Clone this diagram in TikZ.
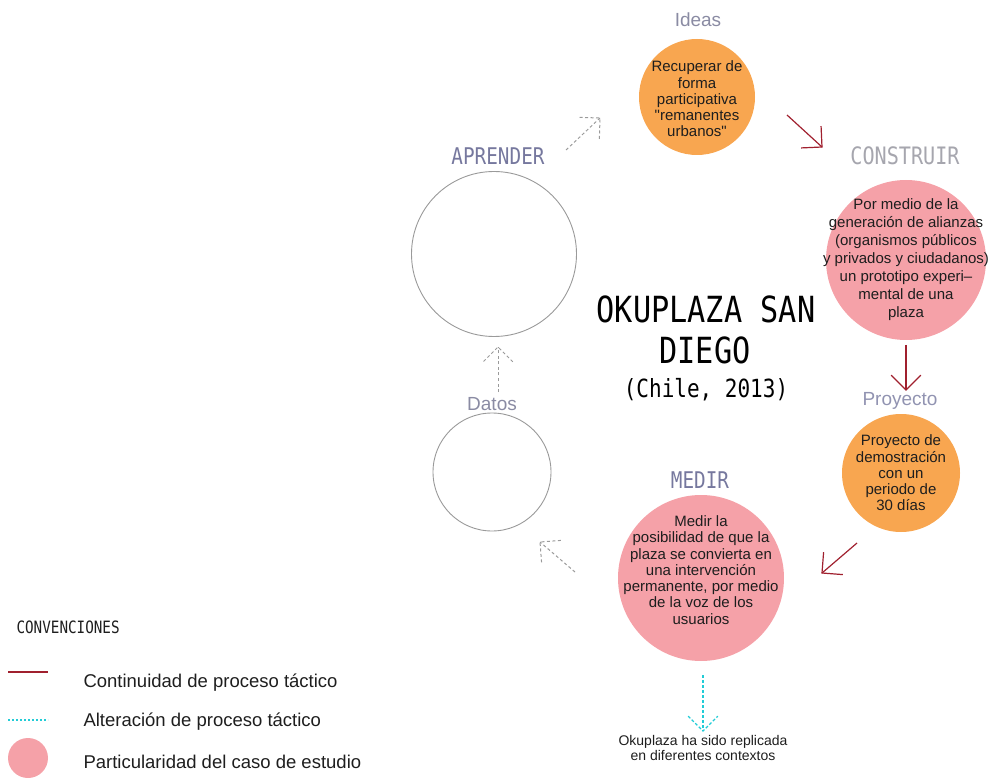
\documentclass[tikz,border=0pt]{standalone}
\usepackage{fontspec}
\setmainfont{Liberation Sans}
\newfontfamily\rawsans{Liberation Sans}[Ligatures=ResetAll]
\newfontfamily\condfont[FakeStretch=0.84]{DejaVu Sans Mono}
\usetikzlibrary{calc}
\definecolor{orangefill}{HTML}{F8A650}
\definecolor{pinkfill}{HTML}{F5A1A8}
\definecolor{darkred}{HTML}{A0202E}
\definecolor{cyanline}{HTML}{22CCD6}
\definecolor{greyline}{HTML}{9A9A9A}
\definecolor{labelgrey}{HTML}{8A8BA3}
\definecolor{labellight}{HTML}{A6A6AE}
\definecolor{labelpurple}{HTML}{76789E}
\definecolor{textdark}{HTML}{1E1E1E}
\newcommand{\okarms}[3]{\draw[#1] ($(#2)!21pt!45:(#3)$) -- (#2) -- ($(#2)!21pt!-45:(#3)$);}
\tikzset{
  circtext/.style={align=center, inner sep=0pt, text=textdark,
    font=\fontsize{15}{16.3}\selectfont},
  orangecirc/.style={circle, inner sep=0pt, fill=orangefill},
  pinkcirc/.style={circle, inner sep=0pt, fill=pinkfill},
  emptycirc/.style={circle, draw=greyline, line width=0.9pt, inner sep=0pt},
  redline/.style={draw=darkred, line width=1.2pt},
  greyline/.style={draw=greyline, line width=1pt, dash pattern=on 3pt off 2.5pt},
  cyandash/.style={draw=cyanline, line width=1.3pt, dash pattern=on 3pt off 2pt},
  lbl/.style={anchor=base, text=labelgrey, font=\fontsize{19}{19}\selectfont},
  condlbl/.style={anchor=base, font=\condfont\fontsize{23}{23}\selectfont},
  titlefont/.style={anchor=base, text=black, font=\condfont\fontsize{36}{36}\selectfont},
  legtext/.style={anchor=base west, text=textdark, font=\fontsize{18.5}{18.5}\selectfont},
}
\begin{document}
\begin{tikzpicture}[x=1pt,y=-1pt]
\useasboundingbox (0,0) rectangle (989,778);

% circles
\node[orangecirc, minimum size=116pt] (ideas) at (697,97) {};
\node[circtext] (ideastxt) at (697,99)
  {Recuperar de\\forma\\participativa\\{\rawsans"}remanentes\\urbanos{\rawsans"}};
\node[pinkcirc, minimum size=160pt] (construir) at (906,260) {};
\node[circtext, font=\fontsize{15}{18}\selectfont] (construirtxt) at (906,260)
  {Por medio de la\\generación de alianzas\\(organismos públicos\\y privados y ciudadanos)\\un prototipo experi–\\mental de una\\plaza};
\node[orangecirc, minimum size=118pt] (proyecto) at (901,473) {};
\node[circtext] (proyectotxt) at (901,473)
  {Proyecto de\\demostración\\con un\\periodo de\\30 días};
\node[pinkcirc, minimum size=166pt] (medir) at (701,578) {};
\node[circtext] (medirtxt) at (701,570)
  {Medir la\\posibilidad de que la\\plaza se convierta en\\una intervención\\permanente, por medio\\de la voz de los\\usuarios};
\node[emptycirc, minimum size=118pt] (datos) at (492,472) {};
\node[emptycirc, minimum size=165pt] (aprender) at (494,254) {};

% labels
\node[lbl] (lideas) at (698,27) {Ideas};
\node[condlbl, text=labellight, font=\condfont\fontsize{24}{24}\selectfont] (lconstruir) at (905,165) {CONSTRUIR};
\node[lbl, text=labelpurple!80] (lproyecto) at (900,406) {Proyecto};
\node[condlbl, text=labelpurple] (lmedir) at (700,488) {MEDIR};
\node[lbl] (ldatos) at (492,410) {Datos};
\node[condlbl, text=labelpurple] (laprender) at (498,165) {APRENDER};

% title
\node[titlefont] (title1) at (706,323) {OKUPLAZA SAN};
\node[titlefont] (title2) at (705,363) {DIEGO};
\node[anchor=base, font=\condfont\fontsize{25}{25}\selectfont] (title3) at (706,398) {(Chile, 2013)};

% arrow coordinates
\coordinate (a1s) at (787,115); \coordinate (a1e) at (822,147);
\coordinate (a2s) at (906,345); \coordinate (a2e) at (906,390);
\coordinate (a3s) at (857,543); \coordinate (a3e) at (822,573);
\coordinate (g1s) at (575,572); \coordinate (g1e) at (540,542);
\coordinate (g2s) at (498,392); \coordinate (g2e) at (498,347);
\coordinate (g3s) at (566,150); \coordinate (g3e) at (600,118);
\coordinate (c1s) at (703,675); \coordinate (c1e) at (703,731);

\draw[redline] (a1s) -- (a1e); \okarms{redline}{a1e}{a1s}
\draw[redline] (a2s) -- (a2e); \okarms{redline}{a2e}{a2s}
\draw[redline] (a3s) -- (a3e); \okarms{redline}{a3e}{a3s}
\draw[greyline] (g1s) -- (g1e); \okarms{greyline}{g1e}{g1s}
\draw[greyline] (g2s) -- (g2e); \okarms{greyline}{g2e}{g2s}
\draw[greyline] (g3s) -- (g3e); \okarms{greyline}{g3e}{g3s}
\draw[cyandash] (c1s) -- (c1e); \okarms{cyandash}{c1e}{c1s}

% bottom text
\node[anchor=base, align=center, text=textdark, font=\fontsize{14}{14.5}\selectfont] (replica) at (703,760)
  {Okuplaza ha sido replicada\\en diferentes contextos};

% legend
\node[anchor=base west, text=textdark, font=\condfont\fontsize{17}{17}\selectfont] (conv) at (13,633) {CONVENCIONES};
\coordinate (lr1) at (8,672); \coordinate (lr2) at (48,672);
\draw[darkred, line width=1.3pt] (lr1) -- (lr2);
\coordinate (lc1) at (8,720); \coordinate (lc2) at (48,720);
\draw[cyanline, line width=1.5pt, dash pattern=on 2pt off 2pt] (lc1) -- (lc2);
\node[pinkcirc, minimum size=40pt] (legcirc) at (28,758) {};
\node[legtext] (leg1) at (80,687) {Continuidad de proceso táctico};
\node[legtext] (leg2) at (80,726) {Alteración de proceso táctico};
\node[legtext] (leg3) at (80,768) {Particularidad del caso de estudio};
\end{tikzpicture}
\end{document}
